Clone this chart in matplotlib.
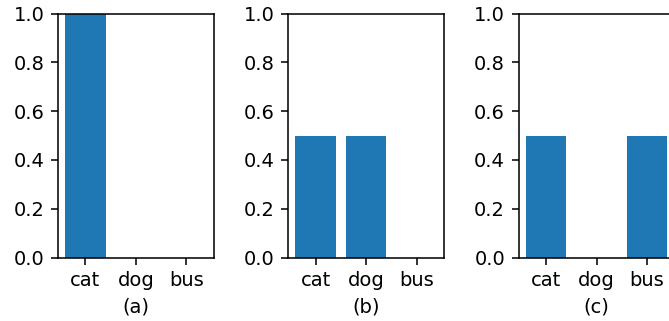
import matplotlib
matplotlib.use("Agg")
import matplotlib.pyplot as plt

categories = ["cat", "dog", "bus"]
values_a = [1.0, 0.0, 0.0]
values_b = [0.5, 0.5, 0.0]
values_c = [0.5, 0.0, 0.5]
panel_labels = ["(a)", "(b)", "(c)"]

DPI = 140
fig = plt.figure(figsize=(669 / DPI, 321 / DPI), dpi=DPI)

lefts = [58 / 669, 288.3 / 669, 518.7 / 669]
for left, vals, lab in zip(lefts, [values_a, values_b, values_c], panel_labels):
    ax = fig.add_axes([left, 0.1978, 155.7 / 669, 0.760])
    ax.bar(categories, vals, color="#1f77b4", width=0.8)
    ax.set_ylim(0, 1.0)
    ax.set_xlabel(lab)

fig.savefig("out.png", dpi=DPI)
